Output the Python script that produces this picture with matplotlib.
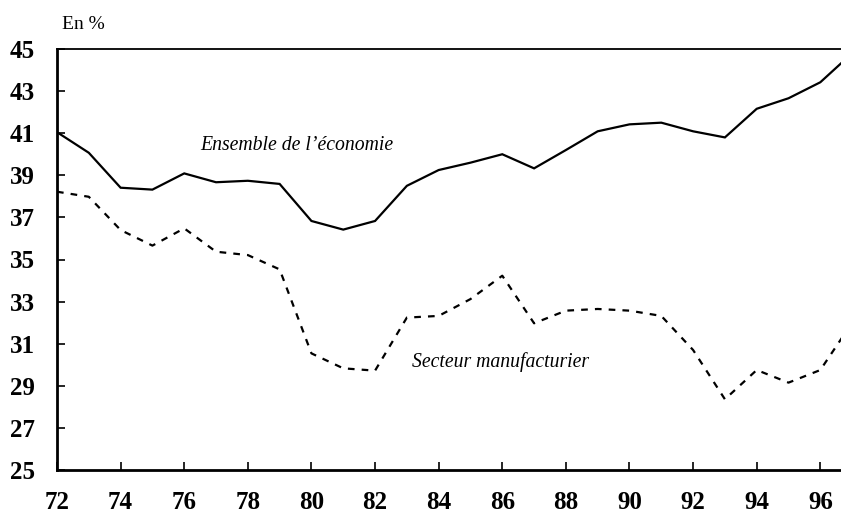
import matplotlib
matplotlib.use("Agg")
import matplotlib.pyplot as plt

# values (in %)
years = [72, 73, 74, 75, 76, 77, 78, 79, 80, 81, 82, 83, 84,
         85, 86, 87, 88, 89, 90, 91, 92, 93, 94, 95, 96, 97]
ensemble = [41.05, 40.07, 38.41, 38.32, 39.09, 38.67, 38.74, 38.59, 36.83,
            36.42, 36.83, 38.5, 39.25, 39.6, 40.0, 39.33, 40.2, 41.09,
            41.42, 41.5, 41.09, 40.8, 42.16, 42.66, 43.42, 44.8]
manuf = [38.22, 37.98, 36.4, 35.66, 36.48, 35.37, 35.21, 34.53, 30.54,
         29.83, 29.72, 32.24, 32.32, 33.12, 34.23, 31.97, 32.57, 32.65,
         32.57, 32.32, 30.7, 28.36, 29.75, 29.15, 29.75, 32.0]
xticks = list(range(72, 97, 2))
yticks = list(range(25, 46, 2))

plt.rcParams["font.family"] = ["Liberation Serif", "DejaVu Serif"]

fig = plt.figure(figsize=(8.41, 5.14), dpi=100)
ax = fig.add_axes([57 / 841, 1 - 470 / 514, 784 / 841, 421 / 514])

ax.plot(years, ensemble, color="black", lw=1.6, solid_joinstyle="miter")
ax.plot(years, manuf, color="black", lw=1.6, linestyle=(0, (3, 3.2)))

ax.set_xlim(72, 96.65)
ax.set_ylim(25, 45)
ax.set_xticks(xticks)
ax.set_yticks(yticks)
ax.tick_params(direction="in", length=5.5, width=1.2, labelsize=18)
ax.tick_params(axis="x", pad=15)
ax.tick_params(axis="y", pad=16)
for lab in ax.get_xticklabels() + ax.get_yticklabels():
    lab.set_fontweight("bold")

ax.spines["right"].set_visible(False)
ax.spines["left"].set_linewidth(2.0)
ax.spines["bottom"].set_linewidth(2.0)
ax.spines["top"].set_linewidth(1.3)

ax.text(76.5, 40.4, "Ensemble de l\u2019économie", style="italic",
        fontsize=14.2, ha="left", va="center")
ax.text(83.16, 30.13, "Secteur manufacturier", style="italic",
        fontsize=14.2, ha="left", va="center")
fig.text(62 / 841, 1 - 24 / 514, "En %", fontsize=14, ha="left",
         va="center")

fig.savefig("out.png", dpi=100)
